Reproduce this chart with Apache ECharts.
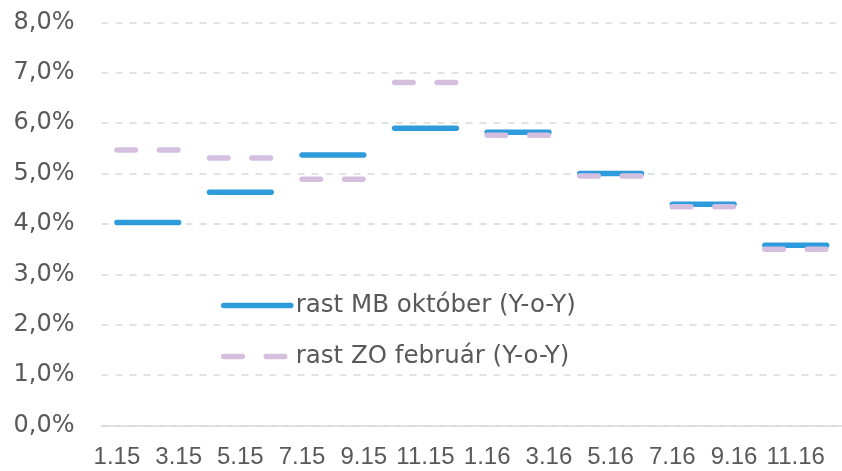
<!DOCTYPE html>
<html>
<head>
<meta charset="utf-8">
<script src="https://cdn.jsdelivr.net/npm/echarts@6/dist/echarts.min.js"></script>
<style>
  html, body { margin: 0; padding: 0; background: #fff; }
  #main { width: 842px; height: 471px; }
</style>
</head>
<body>
<div id="main"></div>
<script>
// months on the x axis (every second one is labelled)
var months = ['1.15', '2.15', '3.15', '4.15', '5.15', '6.15', '7.15', '8.15', '9.15', '10.15', '11.15', '12.15',
              '1.16', '2.16', '3.16', '4.16', '5.16', '6.16', '7.16', '8.16', '9.16', '10.16', '11.16', '12.16'];
// quarterly growth, in %
var mbOctober = [4.03, 4.63, 5.37, 5.90, 5.82, 5.00, 4.39, 3.58];
var zoFebruary = [5.47, 5.31, 4.89, 6.81, 5.76, 4.95, 4.34, 3.50];
var yTicks = [0, 1, 2, 3, 4, 5, 6, 7, 8];

var nameMB = 'rast MB október (Y-o-Y)';
var nameZO = 'rast ZO február (Y-o-Y)';

// spread each quarter over its 3 months; odd/even quarters go to separate series so the steps don't join
function monthly(quarters, parity) {
    var out = [];
    for (var m = 0; m < months.length; m++) {
        var q = Math.floor(m / 3);
        out.push(q % 2 === parity ? quarters[q] : null);
    }
    return out;
}

var blueLine = { color: '#2e9bdc', width: 5.5, cap: 'round' };
var purpleLine = { color: '#d5bfdf', width: 5.5, cap: 'round', type: [18.5, 24] };

var myChart = echarts.init(document.getElementById('main'));

option = {
    backgroundColor: '#fff',
    animation: false,
    grid: { left: 101.5, right: -1, top: 22.4, bottom: 45.4, containLabel: false },
    legend: {
        orient: 'vertical',
        left: 221,
        top: 293,
        padding: 0,
        itemWidth: 67,
        itemHeight: 14,
        itemGap: 26,
        itemStyle: { opacity: 0 },
        lineStyle: { width: 5.5, cap: 'round' },
        textStyle: { fontFamily: 'DejaVu Sans', fontSize: 24.5, color: '#595959' },
        data: [nameMB, nameZO]
    },
    xAxis: {
        type: 'category',
        data: months,
        boundaryGap: true,
        axisLine: { lineStyle: { color: '#d9d9d9', width: 1.5 } },
        axisTick: { interval: 1, length: 7, lineStyle: { color: '#d9d9d9', width: 1.5 } },
        axisLabel: { interval: 1, margin: 20, fontFamily: 'Liberation Sans', fontSize: 24, color: '#595959' }
    },
    yAxis: {
        type: 'value',
        min: yTicks[0],
        max: yTicks[yTicks.length - 1],
        interval: 1,
        axisLine: { show: false },
        axisTick: { show: false },
        axisLabel: {
            margin: 27,
            fontFamily: 'DejaVu Sans', fontSize: 24, color: '#595959',
            formatter: function (v) { return v.toFixed(1).replace('.', ',') + '%'; }
        },
        splitLine: { lineStyle: { color: '#d9d9d9', width: 1.5, type: [7, 7] } }
    },
    series: [
        { name: nameMB, type: 'line', symbol: 'none', data: monthly(mbOctober, 0), lineStyle: blueLine, itemStyle: { color: '#2e9bdc' }, z: 2 },
        { name: nameMB, type: 'line', symbol: 'none', data: monthly(mbOctober, 1), lineStyle: blueLine, itemStyle: { color: '#2e9bdc' }, z: 2 },
        { name: nameZO, type: 'line', symbol: 'none', data: monthly(zoFebruary, 0), lineStyle: purpleLine, itemStyle: { color: '#d5bfdf' }, z: 3 },
        { name: nameZO, type: 'line', symbol: 'none', data: monthly(zoFebruary, 1), lineStyle: purpleLine, itemStyle: { color: '#d5bfdf' }, z: 3 }
    ]
};

myChart.setOption(option);
</script>
</body>
</html>
